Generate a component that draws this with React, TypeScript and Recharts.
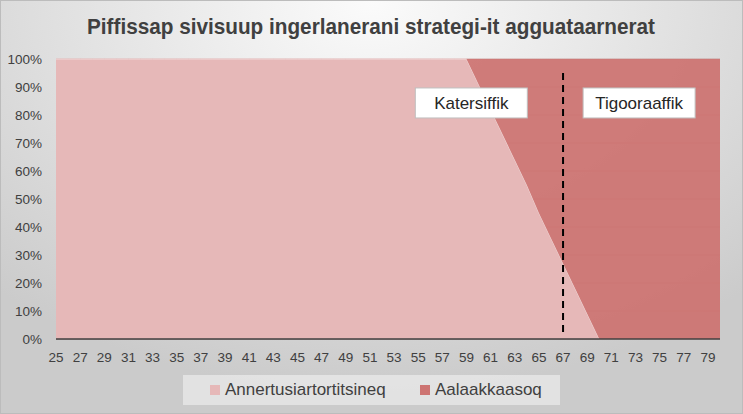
import React from "react";
import { AreaChart, Area, XAxis, YAxis, CartesianGrid, ReferenceLine, ReferenceDot } from "recharts";

const title = "Piffissap sivisuup ingerlanerani strategi-it agguataarnerat";
const seriesNames = ["Annertusiartortitsineq", "Aalaakkaasoq"];
const seriesColors = ["#e6b8b8", "#cd7472"];

const ages = [
  25, 26, 27, 28, 29, 30, 31, 32, 33, 34, 35, 36, 37, 38, 39, 40, 41, 42, 43, 44,
  45, 46, 47, 48, 49, 50, 51, 52, 53, 54, 55, 56, 57, 58, 59, 60, 61, 62, 63, 64,
  65, 66, 67, 68, 69, 70, 71, 72, 73, 74, 75, 76, 77, 78, 79, 80,
];
const annertusiartortitsineq = [
  100, 100, 100, 100, 100, 100, 100, 100, 100, 100, 100, 100, 100, 100, 100, 100, 100, 100, 100, 100,
  100, 100, 100, 100, 100, 100, 100, 100, 100, 100, 100, 100, 100, 100, 100, 91, 82, 73, 64, 55,
  45, 36, 27, 18, 9, 0, 0, 0, 0, 0, 0, 0, 0, 0, 0, 0,
];
const aalaakkaasoq = [
  0, 0, 0, 0, 0, 0, 0, 0, 0, 0, 0, 0, 0, 0, 0, 0, 0, 0, 0, 0,
  0, 0, 0, 0, 0, 0, 0, 0, 0, 0, 0, 0, 0, 0, 0, 9, 18, 27, 36, 45,
  55, 64, 73, 82, 91, 100, 100, 100, 100, 100, 100, 100, 100, 100, 100, 100,
];
const xTicks = [25, 27, 29, 31, 33, 35, 37, 39, 41, 43, 45, 47, 49, 51, 53, 55, 57, 59, 61, 63, 65, 67, 69, 71, 73, 75, 77, 79];
const yTicks = [0, 10, 20, 30, 40, 50, 60, 70, 80, 90, 100];

const retirementAge = 67;
const phaseLabels = ["Katersiffik", "Tigooraaffik"];
const phaseLabelAt = [
  { x: 59.4, y: 84.3 },
  { x: 73.3, y: 84.3 },
];

const data = ages.map((age, i) => ({
  age,
  a: annertusiartortitsineq[i],
  b: aalaakkaasoq[i],
}));

const FONT = "'Liberation Sans', Arial, sans-serif";

const LabelBox = (text: string) => (props: any) => {
  const { cx, cy } = props;
  const w = 112;
  const h = 30;
  return (
    <g>
      <rect x={cx - w / 2} y={cy - h / 2} width={w} height={h} fill="#ffffff" stroke="#bfbfbf" strokeWidth={1} />
      <text x={cx} y={cy + 1} textAnchor="middle" dominantBaseline="central" fontFamily={FONT} fontSize={17} fill="#262626">
        {text}
      </text>
    </g>
  );
};

const legendLeft = [27, 237];

export default function App() {
  return (
    <div
      style={{
        position: "absolute",
        left: 0,
        top: 0,
        width: 743,
        height: 414,
        boxSizing: "border-box",
        border: "1px solid #bcbcbc",
        background: "radial-gradient(ellipse 75% 95% at 50% 0%, #fbfbfb 0%, #e6e6e6 45%, #cbcbcb 100%)",
        overflow: "hidden",
      }}
    >
      <svg width={743} height={50} style={{ position: "absolute", left: -1, top: -1 }}>
        <text
          x={371}
          y={26}
          textAnchor="middle"
          dominantBaseline="central"
          fontFamily={FONT}
          fontWeight="bold"
          fontSize={22}
          fill="#404040"
          textLength={568}
          lengthAdjust="spacingAndGlyphs"
        >
          {title}
        </text>
      </svg>
      <div style={{ position: "absolute", left: -1, top: -1 }}>
        <AreaChart width={743} height={414} data={data} margin={{ top: 59, right: 23, left: 10, bottom: 45 }}>
          <CartesianGrid vertical={false} stroke="#b05c5a" strokeOpacity={0.5} />
          <XAxis
            dataKey="age"
            type="number"
            domain={[25, 80]}
            ticks={xTicks}
            interval={0}
            height={30}
            tickLine={false}
            tickSize={0}
            tickMargin={13}
            axisLine={{ stroke: "#404040", strokeWidth: 1.5 }}
            tick={{ fill: "#404040", fontSize: 13.5, fontFamily: FONT }}
          />
          <YAxis
            domain={[0, 100]}
            ticks={yTicks}
            width={46}
            axisLine={false}
            tickLine={false}
            tickSize={0}
            tickMargin={14}
            tickFormatter={(v: number) => `${v}%`}
            tick={{ fill: "#404040", fontSize: 13.5, fontFamily: FONT }}
          />
          <Area
            type="linear"
            dataKey="a"
            stackId="s"
            name={seriesNames[0]}
            fill={seriesColors[0]}
            fillOpacity={1}
            stroke="#f2dada"
            strokeWidth={1}
            isAnimationActive={false}
          />
          <Area
            type="linear"
            dataKey="b"
            stackId="s"
            name={seriesNames[1]}
            fill={seriesColors[1]}
            fillOpacity={0.94}
            stroke="none"
            isAnimationActive={false}
          />
          <ReferenceLine
            segment={[
              { x: retirementAge, y: 2.5 },
              { x: retirementAge, y: 96.8 },
            ]}
            stroke="#000000"
            strokeWidth={2}
            strokeDasharray="7 5"
            ifOverflow="visible"
          />
          {phaseLabels.map((t, i) => (
            <ReferenceDot
              key={t}
              x={phaseLabelAt[i].x}
              y={phaseLabelAt[i].y}
              r={1}
              ifOverflow="visible"
              shape={LabelBox(t)}
            />
          ))}
        </AreaChart>
      </div>
      <div
        style={{
          position: "absolute",
          left: 182,
          top: 374,
          width: 377,
          height: 30,
          background: "rgba(255,255,255,0.45)",
          fontFamily: FONT,
          fontSize: 17,
          color: "#404040",
        }}
      >
        {seriesNames.map((n, i) => (
          <div
            key={n}
            style={{ position: "absolute", left: legendLeft[i], top: 0, height: 30, display: "flex", alignItems: "center" }}
          >
            <span style={{ display: "inline-block", width: 10, height: 10, background: seriesColors[i], marginRight: 5 }} />
            <span>{n}</span>
          </div>
        ))}
      </div>
    </div>
  );
}
